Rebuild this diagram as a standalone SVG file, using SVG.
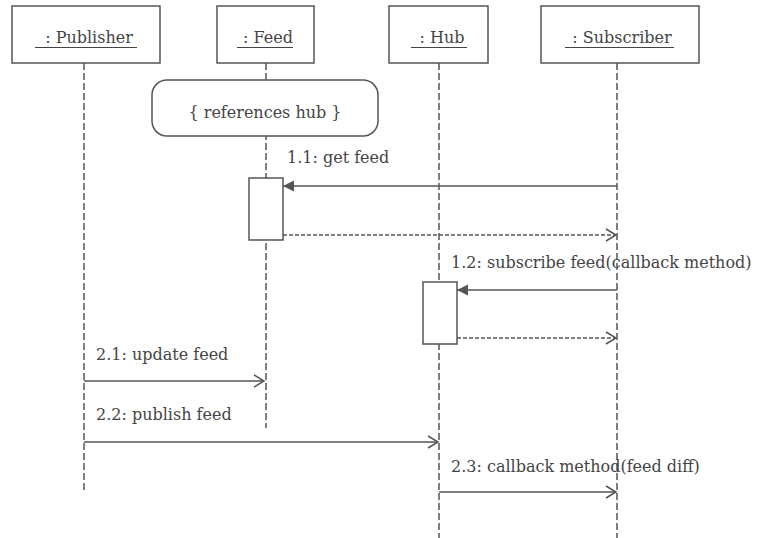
<svg xmlns="http://www.w3.org/2000/svg" width="761" height="538" viewBox="0 0 761 538">
<defs>
<style>
.box{fill:#fff;stroke:#555;stroke-width:1.5}
text{font-family:"DejaVu Serif","Liberation Serif",serif;font-size:16px;fill:#444}
.ul{stroke:#444;stroke-width:1.2}
.life{stroke:#555;stroke-width:1.5;stroke-dasharray:7,3;fill:none}
.msg{stroke:#555;stroke-width:1.5;fill:none}
.ret{stroke:#555;stroke-width:1.5;fill:none;stroke-dasharray:4,2}
</style>
<marker id="filled" markerWidth="12" markerHeight="12" refX="11" refY="6" orient="auto" markerUnits="userSpaceOnUse">
<path d="M0,0.5 L11,6 L0,11.5 Z" fill="#555"/>
</marker>
<marker id="open" markerWidth="14" markerHeight="14" refX="12" refY="7" orient="auto" markerUnits="userSpaceOnUse">
<path d="M2,1 L12,7 L2,13" fill="none" stroke="#555" stroke-width="1.5"/>
</marker>
</defs>
<g id="lifelines">
<line class="life" x1="84" y1="63" x2="84" y2="490"/>
<line class="life" x1="266" y1="63" x2="266" y2="428"/>
<line class="life" x1="439" y1="63" x2="439" y2="538"/>
<line class="life" x1="617" y1="63" x2="617" y2="538"/>
</g>
<g id="publisher">
<rect class="box" x="12" y="6" width="148" height="57"/>
<text x="89" y="43" text-anchor="middle">: Publisher</text>
<line class="ul" x1="35" y1="47.5" x2="137" y2="47.5"/>
</g>
<g id="feed">
<rect class="box" x="217" y="6" width="97" height="57"/>
<text x="268" y="43" text-anchor="middle">: Feed</text>
<line class="ul" x1="237" y1="47.5" x2="293" y2="47.5"/>
</g>
<g id="hub">
<rect class="box" x="389" y="6" width="99" height="57"/>
<text x="442" y="43" text-anchor="middle">: Hub</text>
<line class="ul" x1="411" y1="47.5" x2="467" y2="47.5"/>
</g>
<g id="subscriber">
<rect class="box" x="541" y="6" width="158" height="57"/>
<text x="622" y="43" text-anchor="middle">: Subscriber</text>
<line class="ul" x1="565" y1="47.5" x2="674" y2="47.5"/>
</g>
<g id="note">
<rect class="box" x="152" y="80" width="226" height="56" rx="15" ry="15"/>
<text x="265" y="118" text-anchor="middle">{ references hub }</text>
</g>
<g id="act-feed">
<rect class="box" x="249" y="178" width="34" height="62"/>
</g>
<g id="act-hub">
<rect class="box" x="423" y="282" width="34" height="62"/>
</g>
<g id="connectors">
<line class="msg" x1="617" y1="186" x2="283" y2="186" marker-end="url(#filled)"/>
<text x="287" y="163">1.1: get feed</text>
<line class="ret" x1="283" y1="235" x2="616" y2="235" marker-end="url(#open)"/>
<line class="msg" x1="617" y1="290" x2="457" y2="290" marker-end="url(#filled)"/>
<text x="451" y="268">1.2: subscribe feed(callback method)</text>
<line class="ret" x1="457" y1="338" x2="616" y2="338" marker-end="url(#open)"/>
<line class="msg" x1="84" y1="381" x2="264" y2="381" marker-end="url(#open)"/>
<text x="96" y="360">2.1: update feed</text>
<line class="msg" x1="84" y1="442" x2="438" y2="442" marker-end="url(#open)"/>
<text x="96" y="420">2.2: publish feed</text>
<line class="msg" x1="439" y1="492" x2="616" y2="492" marker-end="url(#open)"/>
<text x="451" y="472">2.3: callback method(feed diff)</text>
</g>
</svg>
